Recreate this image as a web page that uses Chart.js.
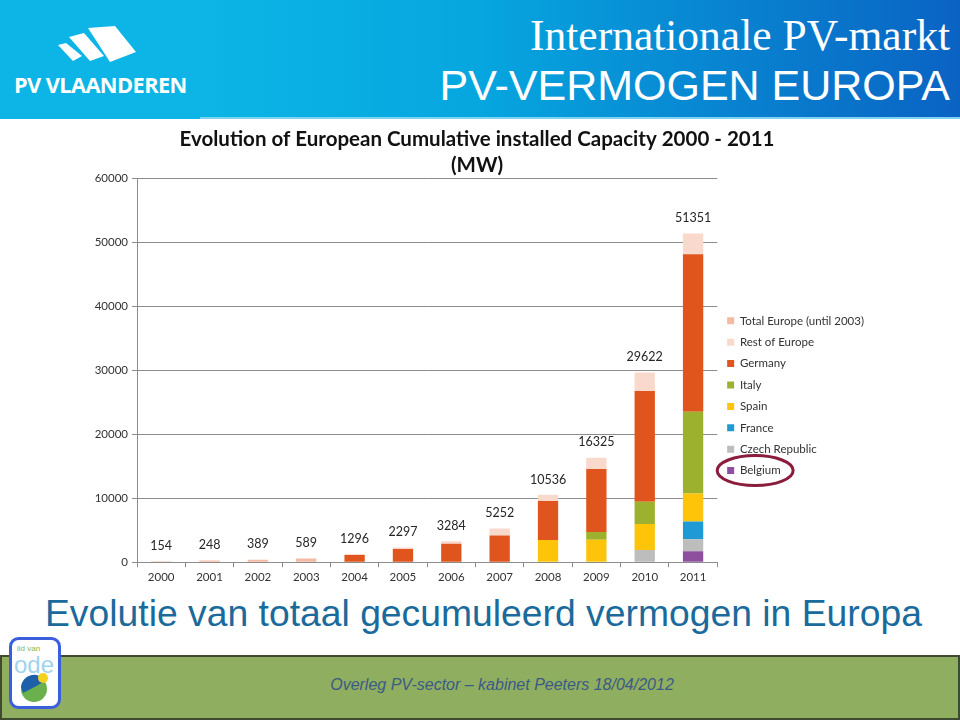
<!DOCTYPE html>
<html>
<head>
<meta charset="utf-8">
<script src="https://cdn.jsdelivr.net/npm/chart.js@4/dist/chart.umd.min.js"></script>
<style>
  html, body { margin: 0; padding: 0; background: #fff; }
  body { width: 960px; height: 720px; position: relative; overflow: hidden; font-family: "Liberation Sans", Arial, sans-serif; }
  .header { position: absolute; left: 0; top: 0; width: 960px; height: 119px;
    background: linear-gradient(90deg, #0cb5e5 0px, #0cb5e5 200px, #06a6df 480px, #0a63c3 960px); }
  .header .line { position: absolute; left: 200px; top: 117px; width: 760px; height: 2px; background: #7fd3f2; }
  .logo-text { position: absolute; left: 14px; top: 70px; color: #fff; font-family: "Open Sans", sans-serif;
    font-weight: 700; font-size: 21.8px; letter-spacing: -0.6px; }
  .h1 { position: absolute; right: 10px; top: 10px; color: #fff; font-family: "Liberation Serif", serif; font-size: 43.5px; }
  .h2 { position: absolute; right: 10px; top: 61px; color: #fff; font-family: "Liberation Sans", sans-serif; font-size: 43px; }
  #wrap { position: absolute; left: 80px; top: 123px; width: 800px; height: 464px; }
  .sub { position: absolute; left: 0; width: 967px; top: 592px; text-align: center; color: #1b6a9c; font-size: 37.3px; }
  .footer { position: absolute; left: 0; top: 655px; width: 956px; height: 61px; background: #8fae5f;
    border: 2px solid #3f4b30; }
  .footer span { position: absolute; left: 0; width: 1000px; top: 19px; text-align: center; font-style: italic;
    color: #3c5a86; font-size: 16px; }
  .ode { position: absolute; left: 9px; top: 637px; }
</style>
</head>
<body>
<div class="header">
  <svg style="position:absolute;left:0;top:0" width="200" height="70">
    <polygon points="58,45 66,43 82,56 73,61" fill="#fff"/>
    <polygon points="69,37 84,33 104,56 90,61" fill="#fff"/>
    <polygon points="88,28 115,26 136,52 110,62" fill="#fff"/>
  </svg>
  <div class="logo-text">PV VLAANDEREN</div>
  <div class="h1">Internationale PV-markt</div>
  <div class="h2">PV-VERMOGEN EUROPA</div>
  <div class="line"></div>
</div>

<div id="wrap"><canvas id="chart"></canvas></div>

<div class="sub">Evolutie van totaal gecumuleerd vermogen in Europa</div>
<div class="footer"><span>Overleg PV-sector – kabinet Peeters 18/04/2012</span></div>
<svg class="ode" width="52" height="72">
  <rect x="1.5" y="1.5" width="49" height="69" rx="8" fill="#fff" stroke="#3b5fdc" stroke-width="3"/>
  <text x="8" y="14" font-family="Liberation Sans" font-size="8" fill="#8cb63e">lid van</text>
  <text x="5" y="36" font-family="Liberation Sans" font-size="24" fill="#9fd3ee">ode</text>
  <circle cx="25" cy="52" r="13" fill="#6ab04c"/>
  <path d="M12,50 A13,13 0 0 1 36,44 Q26,50 14,56 Z" fill="#1d5fa8"/>
  <circle cx="34" cy="41" r="5" fill="#f2d21b"/>
</svg>

<script>
// category labels and values (MW)
const years = ["2000", "2001", "2002", "2003", "2004", "2005", "2006", "2007", "2008", "2009", "2010", "2011"];
const totals = [154, 248, 389, 589, 1296, 2297, 3284, 5252, 10536, 16325, 29622, 51351];

const totalEurope = [154, 248, 389, 589, 0, 0, 0, 0, 0, 0, 0, 0];
const restOfEurope = [0, 0, 0, 0, 186, 237, 384, 1082, 986, 1785, 2872, 3251];
const germany = [0, 0, 0, 0, 1110, 2060, 2900, 4170, 6100, 9840, 17300, 24600];
const italy = [0, 0, 0, 0, 0, 0, 0, 0, 0, 1180, 3500, 12750];
const spain = [0, 0, 0, 0, 0, 0, 0, 0, 3450, 3520, 4050, 4400];
const france = [0, 0, 0, 0, 0, 0, 0, 0, 0, 0, 0, 2750];
const czech = [0, 0, 0, 0, 0, 0, 0, 0, 0, 0, 1900, 1900];
const belgium = [0, 0, 0, 0, 0, 0, 0, 0, 0, 0, 0, 1700];

const yTicks = [0, 10000, 20000, 30000, 40000, 50000, 60000];

// stacked bottom to top, legend shown reversed
const series = [
  { label: "Belgium", data: belgium, color: "#8e4f9f" },
  { label: "Czech Republic", data: czech, color: "#bdbdbd" },
  { label: "France", data: france, color: "#1f9ad4" },
  { label: "Spain", data: spain, color: "#fdc40a" },
  { label: "Italy", data: italy, color: "#9cb22f" },
  { label: "Germany", data: germany, color: "#e0541d" },
  { label: "Rest of Europe", data: restOfEurope, color: "#f9d9cb" },
  { label: "Total Europe (until 2003)", data: totalEurope, color: "#f3baa5" }
];

const font = "Lato, 'Open Sans', sans-serif";

// totals written above each bar
const totalLabels = {
  id: "totalLabels",
  afterDatasetsDraw(chart) {
    const ctx = chart.ctx;
    const x = chart.scales.x, y = chart.scales.y;
    ctx.save();
    ctx.fillStyle = "#262626";
    ctx.font = "12.5px " + font;
    ctx.textAlign = "center";
    ctx.textBaseline = "bottom";
    totals.forEach(function (t, i) {
      ctx.fillText(String(t), x.getPixelForValue(i), y.getPixelForValue(t) - 9);
    });
    ctx.restore();
  }
};

// maroon ring round the Belgium legend entry
const ringBelgium = {
  id: "ringBelgium",
  afterDraw(chart) {
    const boxes = chart.legend.legendHitBoxes;
    if (!boxes || !boxes.length) return;
    const b = boxes[boxes.length - 1];
    const ctx = chart.ctx;
    ctx.save();
    ctx.strokeStyle = "#8a1c3c";
    ctx.lineWidth = 3;
    ctx.beginPath();
    ctx.ellipse(b.left + 28, b.top + b.height / 2, 38, 15, 0, 0, Math.PI * 2);
    ctx.stroke();
    ctx.restore();
  }
};

new Chart(document.getElementById("chart"), {
  type: "bar",
  data: {
    labels: years,
    datasets: series.map(function (s) {
      return { label: s.label, data: s.data, backgroundColor: s.color, borderWidth: 0 };
    })
  },
  options: {
    responsive: true,
    maintainAspectRatio: false,
    animation: false,
    layout: { padding: { top: 3, right: 6, left: 0, bottom: 0 } },
    datasets: { bar: { categoryPercentage: 1, barPercentage: 0.42 } },
    plugins: {
      title: {
        display: true,
        text: ["Evolution of European Cumulative installed Capacity 2000 - 2011", "(MW)"],
        color: "#111",
        font: { family: font, size: 20.5, weight: "bold", lineHeight: 1.27 },
        padding: { top: 0, bottom: 0 }
      },
      legend: {
        position: "right",
        reverse: true,
        title: { display: true, text: "", padding: 32, font: { size: 12 } },
        labels: {
          boxWidth: 7, boxHeight: 7, padding: 9.9, color: "#333",
          font: { family: font, size: 11.5 }
        }
      },
      tooltip: { enabled: false }
    },
    scales: {
      x: {
        stacked: true,
        grid: { drawOnChartArea: false, tickLength: 5, color: "#8c8c8c" },
        border: { color: "#8c8c8c" },
        ticks: { color: "#333", font: { family: font, size: 11.5 }, padding: 3 }
      },
      y: {
        stacked: true,
        min: 0,
        max: 60000,
        afterBuildTicks: function (axis) { axis.ticks = yTicks.map(function (v) { return { value: v }; }); },
        afterFit: function (axis) { axis.width = 57; },
        grid: { color: "#8c8c8c", tickLength: 5 },
        border: { color: "#8c8c8c" },
        ticks: {
          color: "#333", font: { family: font, size: 11.5 }, padding: 4,
          callback: function (v) { return String(v); }
        }
      }
    }
  },
  plugins: [totalLabels, ringBelgium]
});
</script>
</body>
</html>
